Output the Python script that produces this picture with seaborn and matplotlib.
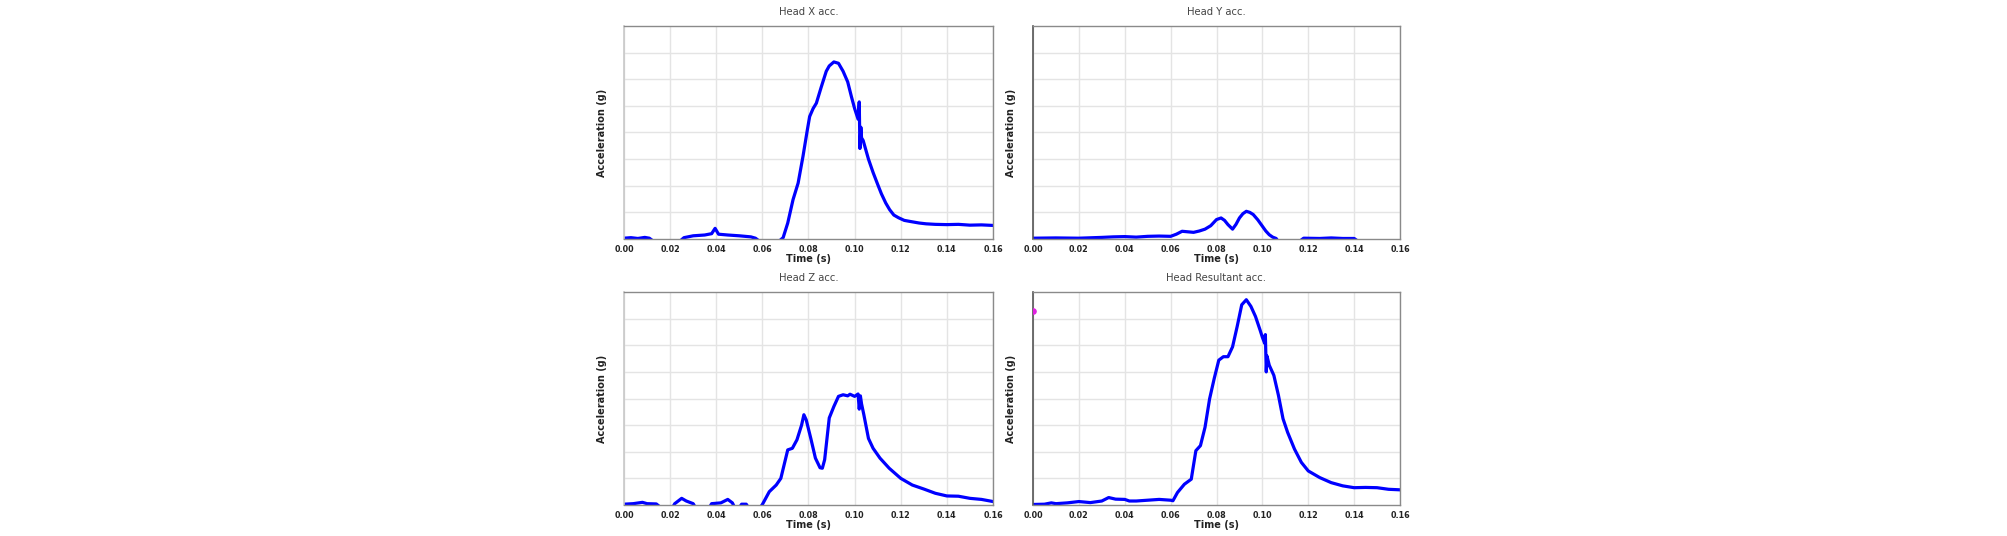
import numpy as np
import pandas as pd
import matplotlib
matplotlib.use("Agg")
import matplotlib.pyplot as plt
import seaborn as sns

# ---------------- data ----------------
titles = ["Head X acc.", "Head Y acc.", "Head Z acc.", "Head Resultant acc."]

x_t = [0, .003, .006, .009, .011, .013, .024, .026, .03, .035, .038, .0395, .041, .045, .05, .055,
       .057, .059, .067, .069, .071, .0733, .0755, .0776, .0795, .0805, .082, .0834, .0855, .0877,
       .089, .091, .093, .095, .097, .0986, .1, .1015, .102, .1023, .1027, .103, .1037, .106, .108,
       .11, .1116, .1135, .1152, .117, .119, .1215, .124, .128, .131, .135, .14, .145, .15, .155, .16]
x_acc = [.03, .05, .02, .06, .03, -.1, -.1, .05, .12, .15, .2, .4, .18, .15, .12, .08,
         .03, -.1, -.1, .05, .6, 1.48, 2.1, 3.1, 4.1, 4.6, 4.9, 5.1, 5.7, 6.3,
         6.5, 6.65, 6.6, 6.3, 5.9, 5.35, 4.9, 4.5, 5.15, 3.4, 4.2, 3.8, 3.7, 3.0, 2.5,
         2.05, 1.7, 1.35, 1.1, .9, .8, .7, .66, .6, .57, .55, .54, .55, .52, .53, .51]

y_t = [0, .01, .02, .03, .035, .04, .045, .05, .055, .06, .0625, .065, .0675, .07, .0725, .075,
       .0775, .08, .082, .0835, .085, .087, .0885, .09, .0915, .093, .0945, .096, .098, .1, .1015,
       .103, .1045, .106, .107, .109, .116, .118, .125, .13, .135, .14, .142, .16]
y_acc = [.03, .04, .03, .06, .08, .09, .07, .1, .11, .1, .18, .29, .27, .25, .3, .37,
         .5, .73, .79, .7, .54, .37, .55, .79, .95, 1.04, 1.0, .92, .72, .48, .3,
         .16, .07, .02, -.1, -.2, -.1, .03, .02, .04, .02, .02, -.1, -.2]

z_t = [0, .004, .008, .01, .014, .016, .021, .022, .025, .027, .03, .031, .037, .038, .042, .045,
       .047, .048, .05, .051, .053, .054, .059, .06, .063, .066, .068, .071, .073, .075, .077, .078,
       .079, .081, .083, .085, .086, .087, .089, .091, .093, .095, .097, .098, .1, .1015, .102,
       .1025, .103, .104, .106, .108, .111, .115, .12, .125, .13, .135, .14, .145, .15, .155, .16]
z_acc = [.03, .05, .1, .05, .04, -.1, -.1, .05, .25, .15, .05, -.1, -.1, .05, .08, .21,
         .08, -.1, -.1, .03, .03, -.1, -.1, .02, .5, .75, 1.0, 2.07, 2.13, 2.45, 3.0, 3.39,
         3.2, 2.5, 1.76, 1.4, 1.38, 1.7, 3.27, 3.7, 4.08, 4.14, 4.1, 4.16, 4.08, 4.17, 3.6,
         4.1, 3.8, 3.39, 2.5, 2.13, 1.76, 1.38, 1.0, .75, .6, .44, .34, .33, .25, .21, .13]

r_t = [0, .005, .008, .01, .015, .02, .025, .03, .033, .036, .04, .042, .045, .05, .055, .06, .061,
       .063, .066, .069, .071, .073, .075, .077, .079, .081, .083, .085, .087, .089, .091, .093,
       .095, .097, .099, .1, .101, .1013, .1017, .102, .103, .105, .107, .109, .111, .114, .117,
       .12, .125, .13, .135, .14, .145, .15, .155, .16]
r_acc = [.02, .03, .08, .05, .08, .13, .09, .15, .28, .22, .21, .15, .15, .18, .21, .18, .16,
         .47, .78, .97, 2.04, 2.23, 2.92, 3.99, 4.75, 5.44, 5.57, 5.57, 5.94, 6.7, 7.52, 7.71,
         7.46, 7.08, 6.57, 6.3, 6.07, 6.4, 5.0, 5.6, 5.25, 4.87, 4.12, 3.24, 2.73, 2.1, 1.6,
         1.28, 1.03, .84, .72, .65, .66, .65, .59, .57]

marker_t = [0.0]
marker_acc = [7.29]

x_ticks = [0.00, 0.02, 0.04, 0.06, 0.08, 0.10, 0.12, 0.14, 0.16]
y_grid = [1, 2, 3, 4, 5, 6, 7]

series = [(x_t, x_acc), (y_t, y_acc), (z_t, z_acc), (r_t, r_acc)]

# ---------------- figure ----------------
sns.set_style("white")
plt.rcParams["font.family"] = ["DejaVu Sans"]

fig = plt.figure(figsize=(20.08, 5.36), dpi=100)
W, H = 2008, 536
boxes = [(624, 26, 993, 239), (1033, 26, 1400, 239),
         (624, 292, 993, 505), (1033, 292, 1400, 505)]

for i, ((l, t, r, b), (tt, aa)) in enumerate(zip(boxes, series)):
    ax = fig.add_axes([l / W, 1 - b / H, (r - l) / W, (b - t) / H])
    df = pd.DataFrame({"Time (s)": tt, "Acceleration (g)": aa})
    sns.lineplot(data=df, x="Time (s)", y="Acceleration (g)", ax=ax,
                 color="#0000ff", linewidth=2.3, estimator=None, sort=False)
    if i == 3:
        ax.scatter(marker_t, marker_acc, s=14, color="#e020e0", zorder=5, clip_on=True)
    ax.set_xlim(0, 0.16)
    ax.set_ylim(0, 8)
    ax.set_xticks(x_ticks)
    ax.set_xticklabels([f"{v:.2f}" for v in x_ticks])
    ax.set_yticks(y_grid)
    ax.set_yticklabels([])
    ax.grid(True, color="#e4e4e4", linewidth=1.0)
    ax.set_axisbelow(True)
    ax.tick_params(axis="x", length=0, pad=4, labelsize=5.8, labelcolor="#222222")
    ax.tick_params(axis="y", length=0)
    for lbl in ax.get_xticklabels():
        lbl.set_fontweight("bold")
    ax.set_xlabel("Time (s)", fontsize=7, fontweight="bold", labelpad=0, color="#222222")
    ax.set_ylabel("Acceleration (g)", fontsize=7, fontweight="bold", labelpad=9, color="#222222")
    ax.set_title(titles[i], fontsize=7.2, color="#444444", pad=8)
    for side in ["top", "right", "bottom"]:
        ax.spines[side].set_color("#8a8a8a")
        ax.spines[side].set_linewidth(1.0)
    ax.spines["left"].set_color("#555555" if i % 2 == 1 else "#c8c8c8")
    ax.spines["left"].set_linewidth(1.2)

fig.savefig("out.png", dpi=100, facecolor="white")
